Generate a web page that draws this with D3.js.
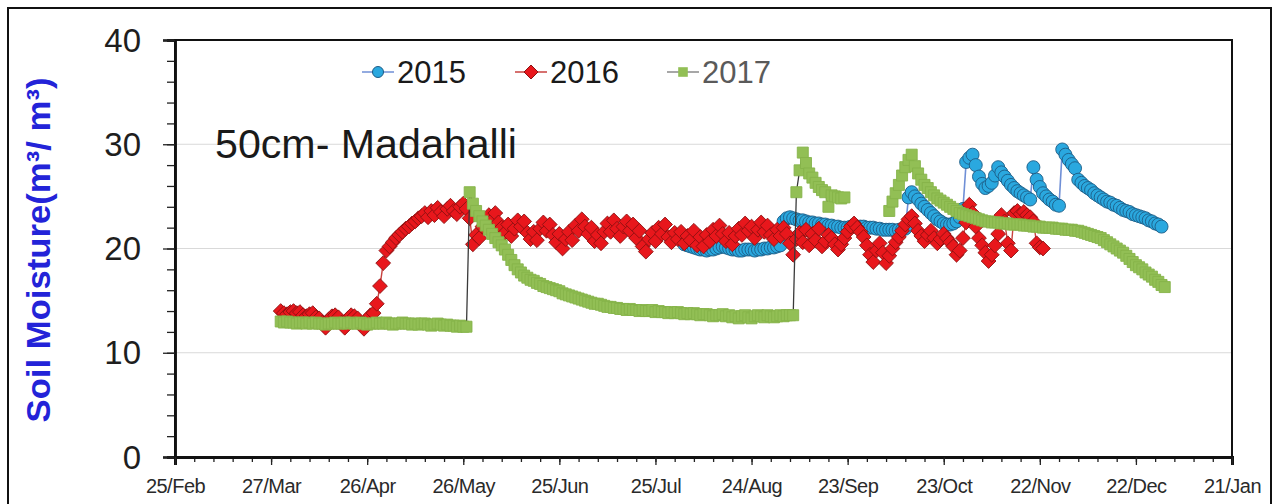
<!DOCTYPE html>
<html><head><meta charset="utf-8">
<script src="https://cdn.jsdelivr.net/npm/d3@7"></script>
<style>body{margin:0;background:#fff}svg{display:block}</style>
</head><body>
<svg id="chart" width="1277" height="504"></svg>
<script>
// ---------- data ----------
const seriesNames = ["2015", "2016", "2017"];
const tickLabels = ["25/Feb","27/Mar","26/Apr","26/May","25/Jun","25/Jul","24/Aug","23/Sep","23/Oct","22/Nov","22/Dec","21/Jan"];
const yTickValues = [0, 10, 20, 30, 40];
const axisStart = "2017-02-25";
const axisEnd = "2018-01-21";
const stepDays = 1;

// daily readings, 2015 (from 3 Aug)
const start2015 = "2017-08-03";
const values2015 = [
  20.4,20.3,20.2,20.1,20.0,19.9,19.9,19.8,19.9,19.9,
  20.0,20.1,20.2,20.1,20.0,19.9,19.9,19.8,19.8,19.9,
  19.9,19.9,19.8,19.9,19.9,20.0,20.0,20.1,20.1,20.2,
  20.3,22.6,22.9,23.0,22.9,22.8,22.7,22.7,22.6,22.5,
  22.5,22.4,22.4,22.3,22.3,22.2,22.2,22.1,22.1,22.0,
  22.0,22.0,22.1,22.1,22.1,22.1,22.1,22.0,22.0,22.0,
  21.9,21.9,21.8,21.8,21.8,21.8,21.7,21.8,21.8,21.9,
  24.9,25.4,25.0,24.7,24.3,24.0,23.7,23.4,23.1,22.8,
  22.6,22.4,22.3,22.3,22.4,22.6,23.0,23.8,28.3,28.7,
  29.0,28.0,26.9,26.2,25.8,26.0,26.3,27.0,27.8,27.3,
  26.9,26.5,26.1,25.8,25.5,25.3,25.1,24.9,24.7,27.8,
  26.6,25.9,25.3,25.0,24.7,24.5,24.2,24.1,29.5,29.0,
  28.5,28.1,27.7,26.6,26.3,26.0,25.8,25.6,25.3,25.1,
  24.9,24.7,24.5,24.4,24.2,24.1,23.9,23.7,23.6,23.5,
  23.3,23.2,23.1,23.0,22.9,22.7,22.6,22.4,22.3,22.1];

// daily readings, 2016 (from 30 Mar)
const start2016 = "2017-03-30";
const values2016 = [
  14.0,13.8,13.7,13.9,14.0,13.8,13.9,13.6,13.5,13.7,
  13.8,13.4,13.3,12.9,12.4,13.2,13.5,13.6,13.4,12.9,
  12.4,13.3,13.6,13.5,13.3,12.8,12.3,13.2,13.6,13.8,
  14.7,16.4,18.6,19.8,20.2,20.6,21.0,21.3,21.6,21.9,
  22.1,22.4,22.6,22.9,23.1,23.4,23.0,23.6,23.2,23.9,
  23.5,23.1,23.8,24.1,23.6,23.3,24.0,24.3,23.8,22.9,
  20.4,21.3,21.0,22.1,22.6,23.2,22.7,23.4,22.5,22.0,
  21.5,22.3,21.2,21.9,22.7,22.1,22.6,21.5,20.9,21.6,
  20.8,21.9,22.5,21.7,22.3,21.3,20.6,21.4,20.0,20.9,
  21.6,20.8,22.2,21.7,22.8,22.1,21.4,22.0,20.7,21.3,
  20.5,21.6,22.4,21.6,22.7,21.9,21.2,22.1,22.6,21.7,
  22.3,21.0,21.7,20.2,19.7,20.9,21.5,20.7,22.0,21.4,
  22.3,21.1,20.6,21.5,20.9,21.6,20.5,21.2,20.8,21.7,
  20.3,21.1,20.2,21.3,20.7,21.8,21.2,22.2,21.4,20.7,
  21.5,20.4,21.2,21.9,21.3,22.4,21.7,22.1,21.0,21.8,
  22.5,21.6,22.2,21.3,20.9,21.8,21.2,22.0,21.4,20.5,
  19.4,20.9,21.5,20.6,21.8,20.3,21.4,20.8,21.9,20.2,
  20.7,21.3,21.0,20.4,19.9,20.4,21.0,21.6,22.1,22.4,
  22.0,21.6,21.1,20.3,19.4,18.7,19.8,20.5,19.6,18.6,
  19.3,20.0,20.6,21.1,21.7,22.3,22.8,23.1,22.4,21.7,
  21.2,20.7,21.3,21.7,21.0,20.5,20.9,21.4,21.0,20.6,
  20.2,19.4,19.8,21.0,22.5,24.2,23.4,22.1,21.0,20.3,
  19.6,18.8,19.4,20.3,21.4,23.2,22.6,20.5,19.8,23.4,
  23.6,23.3,23.5,23.2,23.0,22.6,20.5,20.1,20.0];

// daily readings, 2017 (from 30 Mar)
const start2017 = "2017-03-30";
const values2017 = [
  13.0,12.9,13.0,12.9,12.9,12.8,12.9,12.9,12.8,12.9,
  12.8,12.9,12.8,12.8,12.7,12.8,12.8,12.9,12.8,12.8,
  12.9,12.8,12.9,12.8,12.8,12.9,12.8,12.7,12.8,12.8,
  12.9,12.8,12.8,12.9,12.8,12.7,12.8,12.8,12.9,12.8,
  12.8,12.7,12.8,12.7,12.8,12.8,12.7,12.6,12.7,12.8,
  12.7,12.6,12.7,12.6,12.6,12.5,12.6,12.5,12.5,25.4,
  24.3,23.6,23.1,22.6,22.2,21.8,21.4,21.0,20.6,20.3,
  19.9,19.4,18.9,18.4,18.0,17.7,17.4,17.2,17.0,16.9,
  16.7,16.6,16.4,16.3,16.2,16.1,16.0,15.9,15.7,15.6,
  15.5,15.4,15.3,15.2,15.1,15.0,14.9,14.8,14.7,14.7,
  14.6,14.5,14.4,14.4,14.3,14.3,14.2,14.2,14.1,14.2,
  14.1,14.1,14.0,14.1,14.0,14.0,14.1,13.9,14.0,13.9,
  13.9,13.8,13.9,13.8,13.9,13.8,13.7,13.8,13.7,13.8,
  13.7,13.6,13.7,13.7,13.6,13.5,13.6,13.6,13.7,13.5,
  13.6,13.4,13.5,13.3,13.5,13.6,13.4,13.3,13.5,13.6,
  13.5,13.4,13.6,13.5,13.4,13.5,13.6,13.5,13.6,13.6,
  13.6,25.4,27.5,29.2,28.2,27.2,26.8,26.3,25.9,25.6,
  25.4,24.0,25.1,25.0,24.9,24.8,24.9,null,null,null,
  null,null,null,null,null,null,null,null,null,null,
  23.6,24.5,25.3,26.1,27.0,27.8,28.5,29.0,27.9,27.2,
  26.6,26.1,25.8,25.4,25.1,24.8,24.6,24.4,24.2,24.0,
  23.8,23.6,23.4,23.3,23.2,23.1,23.0,22.9,22.8,22.7,
  22.6,22.6,22.5,22.5,22.5,22.4,22.4,22.4,22.3,22.3,
  22.3,22.3,22.2,22.2,22.2,22.1,22.1,22.1,22.0,22.0,
  22.0,22.0,21.9,21.9,21.9,21.8,21.8,21.8,21.7,21.7,
  21.6,21.5,21.4,21.3,21.2,21.1,21.0,20.8,20.6,20.4,
  20.2,20.0,19.8,19.6,19.3,19.0,18.7,18.4,18.2,18.0,
  17.7,17.5,17.3,17.0,16.8,16.5,16.3];

const yLabel = "Soil Moisture(m\u00B3/ m\u00B3)";
const chartTitle = "50cm- Madahalli";

// ---------- setup ----------
const svg = d3.select("#chart");
const M = {left: 175, right: 1232, top: 40, bottom: 457};
const parse = d3.utcParse("%Y-%m-%d");
const t0 = parse(axisStart), t1 = parse(axisEnd);

const x = d3.scaleUtc().domain([t0, t1]).range([M.left, M.right]);
const y = d3.scaleLinear().domain([0, 40]).range([M.bottom, M.top]);

const FONT = "'Liberation Sans', Arial, sans-serif";

// outer frame
svg.append("rect").attr("x", 8).attr("y", 8).attr("width", 1263).attr("height", 510)
  .attr("fill", "#fff").attr("stroke", "#111").attr("stroke-width", 2);

// gridlines
svg.append("g").selectAll("line").data(yTickValues.filter(v => v > 0 && v < 40)).join("line")
  .attr("x1", M.left).attr("x2", M.right)
  .attr("y1", d => y(d)).attr("y2", d => y(d))
  .attr("stroke", "#d9d9d9").attr("stroke-width", 1.2);

function build(startStr, vals) {
  const s = parse(startStr);
  return vals.map((v, i) => ({date: d3.utcDay.offset(s, i * stepDays), value: v}));
}
const series = [
  {name: seriesNames[0], data: build(start2015, values2015), line: "#6f8fd6", lw: 1.6, shape: "circle", fill: "#2aa8df", stroke: "#1d5c86"},
  {name: seriesNames[1], data: build(start2016, values2016), line: "#c8423f", lw: 1.4, shape: "diamond", fill: "#e8171c", stroke: "#8c1111"},
  {name: seriesNames[2], data: build(start2017, values2017), line: "#3a3a3a", lw: 1.3, shape: "square", fill: "#92bf55", stroke: "#86b34a"}
];

function markerPath(shape, s) {
  if (shape === "circle") return d3.symbol(d3.symbolCircle, Math.PI * s * s)();
  if (shape === "diamond") return `M0,${-s}L${s},0L0,${s}L${-s},0Z`;
  return `M${-s},${-s}H${s}V${s}H${-s}Z`;
}
const markerSize = {circle: 6.5, diamond: 7.4, square: 5.5};

const lineGen = d3.line().defined(d => d.value != null)
  .x(d => x(d.date)).y(d => y(d.value));

const plot = svg.append("g");
series.forEach(s => {
  const g = plot.append("g");
  g.append("path").datum(s.data).attr("d", lineGen)
    .attr("fill", "none").attr("stroke", s.line).attr("stroke-width", s.lw);
  g.selectAll("path.m").data(s.data.filter(d => d.value != null)).join("path")
    .attr("class", "m")
    .attr("d", markerPath(s.shape, markerSize[s.shape]))
    .attr("transform", d => `translate(${x(d.date)},${y(d.value)})`)
    .attr("fill", s.fill).attr("stroke", s.stroke).attr("stroke-width", 0.9);
});

// plot border
svg.append("rect").attr("x", M.left).attr("y", M.top)
  .attr("width", M.right - M.left).attr("height", M.bottom - M.top)
  .attr("fill", "none").attr("stroke", "#111").attr("stroke-width", 2);

// y axis
const yMinor = d3.axisLeft(y).tickValues(d3.range(0, 41, 2)).tickSize(8).tickFormat("");
const yAxisMinor = svg.append("g").attr("transform", `translate(${M.left},0)`).call(yMinor);
const yMajor = d3.axisLeft(y).tickValues(yTickValues).tickSize(12).tickPadding(22).tickFormat(d3.format("d"));
const yAxisG = svg.append("g").attr("transform", `translate(${M.left},0)`).call(yMajor);
[yAxisMinor, yAxisG].forEach(g => {
  g.select(".domain").attr("stroke", "#111").attr("stroke-width", 2.5);
  g.selectAll(".tick line").attr("stroke", "#222").attr("stroke-width", 1.3);
});
yAxisG.selectAll(".tick text").attr("font-family", FONT).attr("font-size", 33)
  .attr("fill", "#1e1e1e").attr("dy", "0.34em");

// x axis
const minorDates = d3.range(0, 331, 6).map(k => d3.utcDay.offset(t0, k));
const majorDates = tickLabels.map((_, i) => d3.utcDay.offset(t0, i * 30));
const xMinor = d3.axisBottom(x).tickValues(minorDates).tickSize(5).tickFormat("");
const xAxisMinor = svg.append("g").attr("transform", `translate(0,${M.bottom})`).call(xMinor);
const xMajor = d3.axisBottom(x).tickValues(majorDates).tickSize(8).tickPadding(14)
  .tickFormat((d, i) => tickLabels[i]);
const xAxisG = svg.append("g").attr("transform", `translate(0,${M.bottom})`).call(xMajor);
[xAxisMinor, xAxisG].forEach(g => {
  g.select(".domain").attr("stroke", "#111").attr("stroke-width", 3);
  g.selectAll(".tick line").attr("stroke", "#222").attr("stroke-width", 1.3);
});
xAxisG.selectAll(".tick text").attr("font-family", FONT).attr("font-size", 20)
  .attr("fill", "#2a2a2a").attr("letter-spacing", "-0.5");

// title inside plot
svg.append("text").attr("x", 215).attr("y", 158).text(chartTitle)
  .attr("font-family", FONT).attr("font-size", 41).attr("fill", "#1a1a1a")
  .attr("textLength", 302).attr("lengthAdjust", "spacingAndGlyphs");

// y label
svg.append("text").attr("transform", "translate(50,250) rotate(-90)")
  .attr("text-anchor", "middle").text(yLabel)
  .attr("font-family", FONT).attr("font-size", 34).attr("font-weight", "bold")
  .attr("fill", "#2323d8")
  .attr("textLength", 345).attr("lengthAdjust", "spacingAndGlyphs");

// legend
const legendX = [362, 515, 667];
const legendTextColor = ["#1a1a1a", "#1a1a1a", "#5a5a5a"];
const lg = svg.append("g");
series.forEach((s, i) => {
  const g = lg.append("g").attr("transform", `translate(${legendX[i]},72)`);
  g.append("line").attr("x1", 0).attr("x2", 32).attr("y1", 0).attr("y2", 0)
    .attr("stroke", i === 2 ? "#8a8a8a" : s.line).attr("stroke-width", 1.5);
  g.append("path").attr("d", markerPath(s.shape, i === 0 ? 5.5 : (i === 1 ? 7 : 4.8)))
    .attr("transform", "translate(16,0)")
    .attr("fill", s.fill).attr("stroke", i === 2 ? "none" : s.stroke).attr("stroke-width", 1);
  g.append("text").attr("x", 35).attr("y", 11).text(s.name)
    .attr("font-family", FONT).attr("font-size", 31).attr("fill", legendTextColor[i]);
});
</script>
</body></html>
